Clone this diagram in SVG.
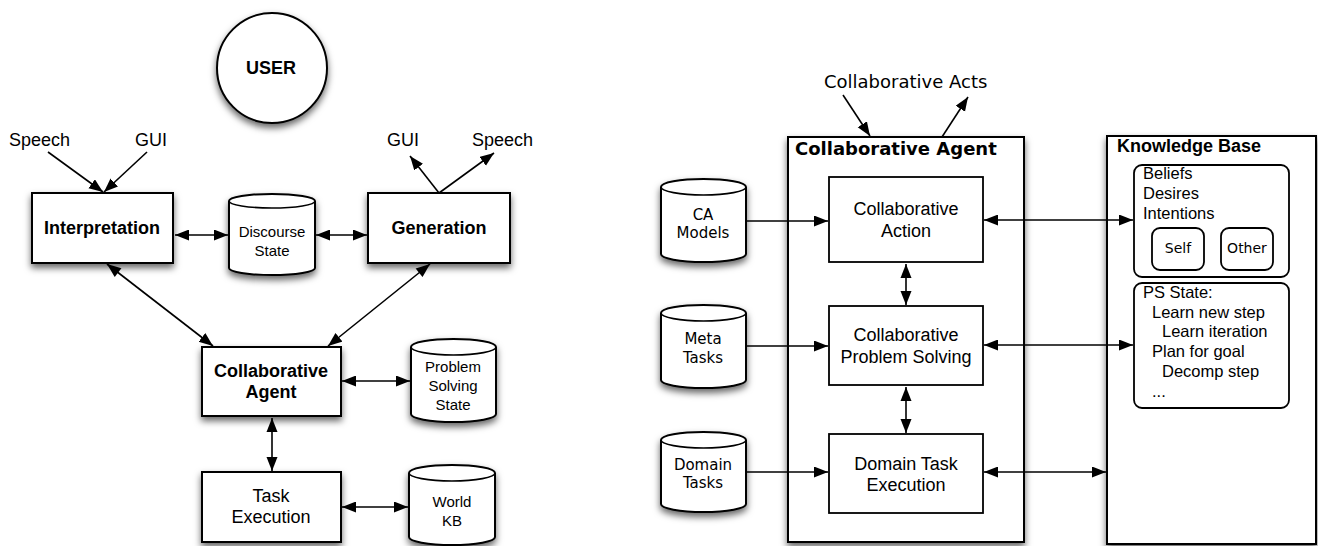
<svg xmlns="http://www.w3.org/2000/svg" width="1318" height="546" viewBox="0 0 1318 546">
<style>
.box{fill:#fff;stroke:#000;stroke-width:2}
.inner{fill:#fff;stroke:#000;stroke-width:1.8}
.cyl{fill:#fff;stroke:#000;stroke-width:2}
.cl{fill:none;stroke:#000;stroke-width:1.6}
.sh{filter:url(#shadow)}
.ln{fill:none;stroke:#000;stroke-width:1.6}
.a1{marker-end:url(#ah)}
.a2{marker-start:url(#ahs);marker-end:url(#ah)}
.ar{font-family:"Liberation Sans",Arial,sans-serif;fill:#000}
.dv{font-family:"DejaVu Sans",Verdana,sans-serif;fill:#000}
.b{font-weight:bold}
.c{text-anchor:middle}
</style>
<defs>
<filter id="shadow" x="-20%" y="-20%" width="140%" height="150%">
<feDropShadow dx="0" dy="4" stdDeviation="3.5" flood-color="#000" flood-opacity="0.6"/>
</filter>
<marker id="ah" markerUnits="userSpaceOnUse" markerWidth="15" markerHeight="12" refX="14" refY="5.5" orient="auto">
<path d="M0,0 L14,5.5 L0,11 Z" fill="#000"/>
</marker>
<marker id="ahs" markerUnits="userSpaceOnUse" markerWidth="15" markerHeight="12" refX="0" refY="5.5" orient="auto">
<path d="M14,0 L0,5.5 L14,11 Z" fill="#000"/>
</marker>
</defs>
<rect width="1318" height="546" fill="#fff"/>

<!-- Left diagram -->
<g id="user">
<circle class="box sh" cx="272" cy="68" r="55"/>
<text class="ar b c" x="271" y="74" font-size="18">USER</text>
</g>
<g id="speech-in"><text class="ar" x="9" y="146" font-size="18">Speech</text></g>
<g id="gui-in"><text class="ar" x="135" y="146" font-size="18">GUI</text></g>
<g id="gui-out"><text class="ar" x="387" y="146" font-size="18">GUI</text></g>
<g id="speech-out"><text class="ar" x="472" y="146" font-size="18">Speech</text></g>

<g id="interpretation">
<rect class="box sh" x="32" y="193" width="141" height="70"/>
<text class="ar b c" x="102" y="234" font-size="18">Interpretation</text>
</g>
<g id="discourse-state">
<path class="cyl sh" d="M229,201 A43,7 0 0 1 315,201 L315,268 A43,7 0 0 1 229,268 Z"/>
<path class="cl" d="M229,201 A43,7 0 0 0 315,201"/>
<text class="ar c" x="272" y="237" font-size="15">Discourse</text>
<text class="ar c" x="272" y="256" font-size="15">State</text>
</g>
<g id="generation">
<rect class="box sh" x="368" y="193" width="142" height="70"/>
<text class="ar b c" x="439" y="234" font-size="18">Generation</text>
</g>
<g id="collab-agent-left">
<rect class="box sh" x="202" y="347" width="139" height="69"/>
<text class="ar b c" x="271" y="377" font-size="18">Collaborative</text>
<text class="ar b c" x="271" y="398" font-size="18">Agent</text>
</g>
<g id="ps-state">
<path class="cyl sh" d="M411,347 A42.5,8 0 0 1 496,347 L496,414 A42.5,8 0 0 1 411,414 Z"/>
<path class="cl" d="M411,347 A42.5,8 0 0 0 496,347"/>
<text class="ar c" x="453" y="372" font-size="15">Problem</text>
<text class="ar c" x="453" y="391" font-size="15">Solving</text>
<text class="ar c" x="453" y="410" font-size="15">State</text>
</g>
<g id="task-execution">
<rect class="box sh" x="202" y="472" width="139" height="70"/>
<text class="ar c" x="271" y="502" font-size="18">Task</text>
<text class="ar c" x="271" y="523" font-size="18">Execution</text>
</g>
<g id="world-kb">
<path class="cyl sh" d="M409,473 A43,8 0 0 1 495,473 L495,537 A43,8 0 0 1 409,537 Z"/>
<path class="cl" d="M409,473 A43,8 0 0 0 495,473"/>
<text class="ar c" x="452" y="507" font-size="15">World</text>
<text class="ar c" x="452" y="526" font-size="15">KB</text>
</g>

<!-- Right diagram -->
<g id="collab-acts"><text class="dv" x="824" y="88" font-size="18">Collaborative Acts</text></g>
<g id="collab-agent">
<rect class="box sh" x="788" y="137" width="236" height="405"/>
<text class="dv b" x="795" y="155" font-size="18">Collaborative Agent</text>
</g>
<g id="collab-action">
<rect class="inner" x="829" y="177" width="154" height="85"/>
<text class="ar c" x="906" y="215" font-size="18">Collaborative</text>
<text class="ar c" x="906" y="237" font-size="18">Action</text>
</g>
<g id="cps">
<rect class="inner" x="829" y="306" width="154" height="79"/>
<text class="ar c" x="906" y="341" font-size="18">Collaborative</text>
<text class="ar c" x="906" y="363" font-size="18">Problem Solving</text>
</g>
<g id="dte">
<rect class="inner" x="829" y="434" width="154" height="79"/>
<text class="ar c" x="906" y="470" font-size="18">Domain Task</text>
<text class="ar c" x="906" y="491" font-size="18">Execution</text>
</g>
<g id="ca-models">
<path class="cyl sh" d="M661,187 A42.5,8 0 0 1 746,187 L746,254 A42.5,8 0 0 1 661,254 Z"/>
<path class="cl" d="M661,187 A42.5,8 0 0 0 746,187"/>
<text class="dv c" x="703" y="220" font-size="15">CA</text>
<text class="dv c" x="703" y="238" font-size="15">Models</text>
</g>
<g id="meta-tasks">
<path class="cyl sh" d="M661,313 A42.5,8 0 0 1 746,313 L746,380 A42.5,8 0 0 1 661,380 Z"/>
<path class="cl" d="M661,313 A42.5,8 0 0 0 746,313"/>
<text class="dv c" x="703" y="344" font-size="15">Meta</text>
<text class="dv c" x="703" y="363" font-size="15">Tasks</text>
</g>
<g id="domain-tasks">
<path class="cyl sh" d="M661,440 A42.5,8 0 0 1 746,440 L746,504 A42.5,8 0 0 1 661,504 Z"/>
<path class="cl" d="M661,440 A42.5,8 0 0 0 746,440"/>
<text class="dv c" x="703" y="470" font-size="15">Domain</text>
<text class="dv c" x="703" y="488" font-size="15">Tasks</text>
</g>
<g id="knowledge-base">
<rect class="box sh" x="1107" y="136" width="209" height="408"/>
<text class="ar b" x="1117" y="152" font-size="18">Knowledge Base</text>
</g>
<g id="bdi">
<rect class="inner" x="1134" y="165" width="155" height="112" rx="8"/>
<text class="ar" x="1143" y="179" font-size="16.5">Beliefs</text>
<text class="ar" x="1143" y="199" font-size="16.5">Desires</text>
<text class="ar" x="1143" y="219" font-size="16.5">Intentions</text>
</g>
<g id="self">
<rect class="inner" x="1152" y="228" width="52" height="42" rx="8"/>
<text class="dv c" x="1178" y="253" font-size="14">Self</text>
</g>
<g id="other">
<rect class="inner" x="1221" y="228" width="52" height="42" rx="8"/>
<text class="dv c" x="1247" y="253" font-size="14">Other</text>
</g>
<g id="ps-state-kb">
<rect class="inner" x="1134" y="283" width="155" height="125" rx="8"/>
<text class="ar" x="1143" y="298" font-size="16.5">PS State:</text>
<text class="ar" x="1152" y="318" font-size="16.5">Learn new step</text>
<text class="ar" x="1162" y="337" font-size="16.5">Learn iteration</text>
<text class="ar" x="1152" y="357" font-size="16.5">Plan for goal</text>
<text class="ar" x="1162" y="377" font-size="16.5">Decomp step</text>
<text class="ar" x="1152" y="397" font-size="16.5">...</text>
</g>

<g id="connectors">
<line class="ln a1" x1="48" y1="152" x2="103" y2="192"/>
<line class="ln a1" x1="147" y1="152" x2="104" y2="192"/>
<line class="ln a1" x1="439" y1="193" x2="410" y2="156"/>
<line class="ln a1" x1="439" y1="193" x2="494" y2="153"/>
<line class="ln a2" x1="175" y1="235" x2="228" y2="235"/>
<line class="ln a2" x1="316" y1="235" x2="367" y2="235"/>
<line class="ln a2" x1="107" y1="264" x2="213" y2="346"/>
<line class="ln a2" x1="430" y1="264" x2="328" y2="346"/>
<line class="ln a2" x1="342" y1="381" x2="410" y2="381"/>
<line class="ln a2" x1="272" y1="418" x2="272" y2="471"/>
<line class="ln a2" x1="342" y1="507" x2="408" y2="507"/>

<line class="ln a1" x1="843" y1="95" x2="870" y2="136"/>
<line class="ln a1" x1="942" y1="137" x2="968" y2="97"/>
<line class="ln a1" x1="746" y1="221" x2="828" y2="221"/>
<line class="ln a1" x1="746" y1="346" x2="828" y2="346"/>
<line class="ln a1" x1="746" y1="472" x2="828" y2="472"/>
<line class="ln a2" x1="906" y1="264" x2="906" y2="305"/>
<line class="ln a2" x1="906" y1="387" x2="906" y2="433"/>
<line class="ln a2" x1="984" y1="220" x2="1133" y2="220"/>
<line class="ln a2" x1="984" y1="345" x2="1133" y2="345"/>
<line class="ln a2" x1="984" y1="472" x2="1106" y2="472"/>
</g>
</svg>
